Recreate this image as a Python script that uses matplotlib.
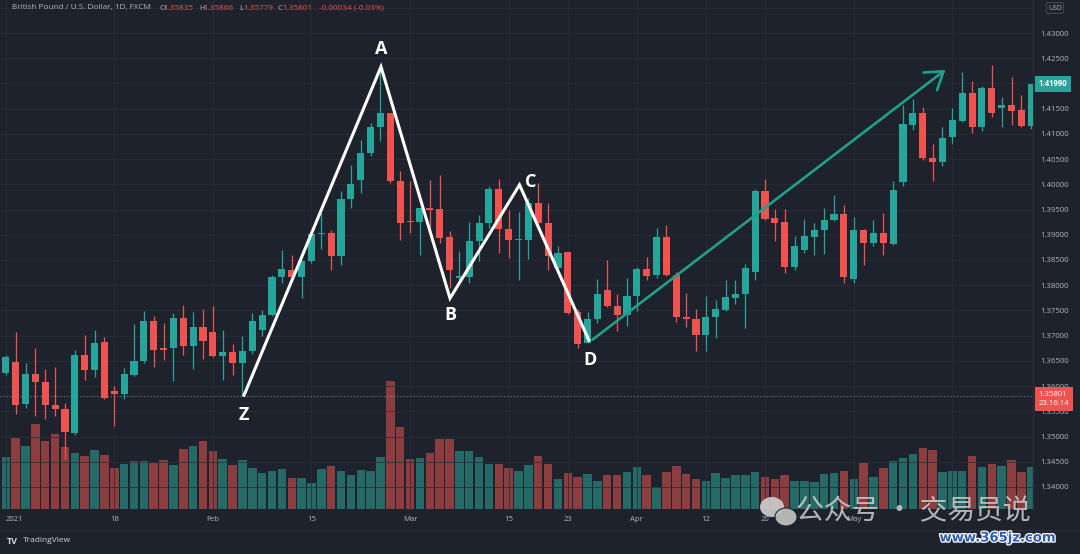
import matplotlib
matplotlib.use('Agg')
import matplotlib.pyplot as plt
import numpy as np
import matplotlib.patheffects as pe
from matplotlib.patches import Ellipse
from matplotlib.lines import Line2D
from matplotlib.transforms import blended_transform_factory

plt.rcParams['font.family'] = ['Open Sans', 'DejaVu Sans']

# ---------------- data ----------------
opens = [1.3625, 1.3647, 1.3565, 1.3624, 1.3608, 1.3563, 1.3555, 1.3507, 1.3662, 1.3631,
         1.3687, 1.3590, 1.3585, 1.3622, 1.3650, 1.3730, 1.3675, 1.3676, 1.3735, 1.3679,
         1.3717, 1.3707, 1.3660, 1.3668, 1.3645, 1.3669, 1.3712, 1.3740, 1.3817, 1.3831,
         1.3816, 1.3847, 1.3901, 1.3903, 1.3857, 1.3970, 1.4008, 1.4062, 1.4113, 1.4141,
         1.4006, 1.3928, 1.3925, 1.3953, 1.3951, 1.3895, 1.3815, 1.3817, 1.3887, 1.3923,
         1.3991, 1.3912, 1.3890, 1.3890, 1.3963, 1.3924, 1.3834, 1.3865, 1.3746, 1.3686,
         1.3732, 1.3791, 1.3759, 1.3740, 1.3778, 1.3832, 1.3821, 1.3895, 1.3821, 1.3737,
         1.3733, 1.3702, 1.3736, 1.3750, 1.3775, 1.3782, 1.3826, 1.3987, 1.3933, 1.3926,
         1.3836, 1.3869, 1.3896, 1.3909, 1.3929, 1.3942, 1.3812, 1.3910, 1.3884, 1.3903,
         1.3882, 1.4004, 1.4118, 1.4141, 1.4053, 1.4045, 1.4093, 1.4126, 1.4182, 1.4114,
         1.4190, 1.4151, 1.4157, 1.4147, 1.4116]
highs = [1.3662, 1.3707, 1.3645, 1.3676, 1.3634, 1.3638, 1.3567, 1.3672, 1.3702, 1.3712,
         1.3697, 1.3601, 1.3636, 1.3724, 1.3748, 1.3738, 1.3726, 1.3745, 1.3761, 1.3746,
         1.3753, 1.3759, 1.3712, 1.3684, 1.3700, 1.3745, 1.3751, 1.3821, 1.3869, 1.3860,
         1.3849, 1.3905, 1.3943, 1.3910, 1.3986, 1.4039, 1.4088, 1.4121, 1.4225, 1.4142,
         1.4027, 1.4006, 1.3954, 1.4009, 1.4019, 1.3907, 1.3867, 1.3926, 1.3940, 1.3996,
         1.4010, 1.3950, 1.3946, 1.3973, 1.4002, 1.3963, 1.3878, 1.3866, 1.3752, 1.3746,
         1.3812, 1.3849, 1.3783, 1.3814, 1.3837, 1.3856, 1.3913, 1.3920, 1.3827, 1.3785,
         1.3752, 1.3779, 1.3770, 1.3811, 1.3811, 1.3843, 1.3991, 1.4010, 1.3951, 1.3951,
         1.3898, 1.3931, 1.3924, 1.3953, 1.3979, 1.3959, 1.3935, 1.3912, 1.3930, 1.3943,
         1.4006, 1.4157, 1.4169, 1.4154, 1.4080, 1.4113, 1.4151, 1.4223, 1.4204, 1.4194,
         1.4237, 1.4174, 1.4213, 1.4177, 1.4199]
lows = [1.3621, 1.3544, 1.3557, 1.3540, 1.3534, 1.3540, 1.3455, 1.3504, 1.3613, 1.3618,
        1.3575, 1.3520, 1.3575, 1.3620, 1.3646, 1.3638, 1.3651, 1.3610, 1.3662, 1.3633,
        1.3654, 1.3658, 1.3613, 1.3621, 1.3580, 1.3664, 1.3699, 1.3738, 1.3804, 1.3808,
        1.3775, 1.3845, 1.3872, 1.3831, 1.3841, 1.3953, 1.3983, 1.4056, 1.4085, 1.4003,
        1.3890, 1.3903, 1.3860, 1.3913, 1.3884, 1.3795, 1.3811, 1.3804, 1.3847, 1.3913,
        1.3864, 1.3854, 1.3811, 1.3851, 1.3923, 1.3831, 1.3831, 1.3742, 1.3676, 1.3685,
        1.3725, 1.3757, 1.3709, 1.3720, 1.3748, 1.3810, 1.3814, 1.3818, 1.3728, 1.3718,
        1.3669, 1.3669, 1.3695, 1.3748, 1.3763, 1.3715, 1.3811, 1.3930, 1.3887, 1.3825,
        1.3831, 1.3864, 1.3860, 1.3862, 1.3927, 1.3804, 1.3804, 1.3841, 1.3877, 1.3860,
        1.3880, 1.3996, 1.4108, 1.4049, 1.4006, 1.4037, 1.4080, 1.4124, 1.4101, 1.4105,
        1.4134, 1.4114, 1.4118, 1.4114, 1.4110]
closes = [1.3658, 1.3563, 1.3624, 1.3608, 1.3563, 1.3555, 1.3509, 1.3662, 1.3631, 1.3686,
          1.3577, 1.3585, 1.3623, 1.3650, 1.3730, 1.3672, 1.3672, 1.3735, 1.3679, 1.3717,
          1.3689, 1.3659, 1.3668, 1.3645, 1.3670, 1.3730, 1.3740, 1.3817, 1.3832, 1.3816,
          1.3847, 1.3902, 1.3904, 1.3857, 1.3971, 1.4000, 1.4063, 1.4113, 1.4141, 1.4006,
          1.3924, 1.3925, 1.3953, 1.3950, 1.3893, 1.3831, 1.3818, 1.3887, 1.3923, 1.3991,
          1.3912, 1.3890, 1.3892, 1.3963, 1.3924, 1.3857, 1.3864, 1.3744, 1.3684, 1.3732,
          1.3783, 1.3758, 1.3740, 1.3779, 1.3832, 1.3819, 1.3895, 1.3821, 1.3736, 1.3733,
          1.3702, 1.3736, 1.3752, 1.3776, 1.3783, 1.3834, 1.3987, 1.3931, 1.3924, 1.3836,
          1.3878, 1.3898, 1.3910, 1.3930, 1.3942, 1.3816, 1.3910, 1.3884, 1.3903, 1.3884,
          1.3988, 1.4120, 1.4142, 1.4052, 1.4045, 1.4092, 1.4128, 1.4182, 1.4114, 1.4190,
          1.4141, 1.4157, 1.4146, 1.4116, 1.4199]
volumes = [52, 71, 63, 85, 68, 75, 62, 56, 53, 59, 54, 41, 45, 48, 48, 46, 49, 44, 60, 63,
           68, 58, 50, 44, 49, 41, 36, 38, 40, 31, 31, 26, 40, 43, 38, 34, 39, 38, 52, 128,
           82, 50, 51, 56, 70, 70, 58, 58, 52, 45, 45, 41, 38, 44, 53, 45, 30, 36, 32, 35,
           28, 34, 34, 37, 42, 34, 22, 37, 43, 35, 30, 28, 36, 31, 34, 34, 37, 32, 30, 34,
           28, 28, 27, 35, 36, 38, 30, 46, 32, 41, 48, 51, 55, 61, 59, 37, 38, 38, 53, 42,
           45, 43, 49, 37, 42]

date_tick_pos = [0, 11, 21, 31, 41, 51, 57, 64, 71, 77, 86, 96]
date_tick_labels = ['2021', '18', 'Feb', '15', 'Mar', '15', '23', 'Apr', '12', '20', 'May', '']
price_ticks = [1.340, 1.345, 1.350, 1.355, 1.360, 1.365, 1.370, 1.375, 1.380, 1.385,
               1.390, 1.395, 1.400, 1.405, 1.410, 1.415, 1.420, 1.425, 1.430, 1.435]

pattern_x = [24.1, 38.05, 45.05, 52.1, 59.2]
pattern_y = [1.3579, 1.4233, 1.3774, 1.3999, 1.3688]
pattern_labels = ['Z', 'A', 'B', 'C', 'D']
trend_start = (59.5, 1.3692)
trend_end = (95.3, 1.4227)

last_price = 1.41990
cursor_price = 1.35801

# ---------------- style ----------------
BG = '#1e222d'
GRID = '#2a2e39'
TEAL = '#26a69a'
RED = '#ef5350'
VTEAL = '#256a66'
VRED = '#8b3d40'
TXT = '#b2b5be'
GREEN = '#1fa08b'

W, H = 1080, 554
fig = plt.figure(figsize=(W / 100, H / 100), dpi=100, facecolor=BG)
rect = [0, 44 / H, 1033 / W, 510 / H]

n = len(opens)
idx = np.arange(n)
o = np.array(opens); c = np.array(closes)
hi = np.array(highs); lo = np.array(lows)
up = c >= o

# volume axes (behind)
axv = fig.add_axes(rect)
axv.set_facecolor(BG)
axv.bar(idx, volumes, width=0.86, color=np.where(up, VTEAL, VRED), linewidth=0)
axv.set_xlim(-0.59, 104.18)
axv.set_ylim(-1, 509)
axv.axis('off')

# price axes (front)
ax = fig.add_axes(rect)
ax.patch.set_visible(False)
ax.set_xlim(-0.59, 104.18)
ax.set_ylim(1.335432, 1.436543)

ax.set_yticks(price_ticks)
ax.set_yticklabels(['' if p > 1.4325 else f'{p:.5f}' for p in price_ticks])
ax.yaxis.tick_right()
ax.tick_params(axis='y', length=0, pad=5, labelsize=5.6, labelcolor=TXT)
ax.set_xticks(date_tick_pos)
ax.set_xticklabels(date_tick_labels)
ax.tick_params(axis='x', length=0, pad=4, labelsize=5.6, labelcolor=TXT)
ax.get_xticklabels()[0].set_ha('left')
ax.grid(True, color=GRID, lw=0.7, alpha=0.8, zorder=0)
for s in ['top', 'left', 'bottom']:
    ax.spines[s].set_visible(False)
ax.spines['right'].set_color(GRID)
ax.spines['right'].set_linewidth(1.0)

colors = np.where(up, TEAL, RED)
ax.vlines(idx, lo, hi, colors=colors, lw=0.9, zorder=3)
ax.bar(idx, np.maximum(np.abs(c - o), 0.00016), bottom=np.minimum(o, c), width=0.72,
       color=colors, linewidth=0, zorder=4)

# cursor price dotted line
ax.axhline(cursor_price, color='#9598a1', lw=0.8, ls=(0, (1, 2)), alpha=0.8, zorder=2)

# pattern lines
ax.plot(pattern_x, pattern_y, color='white', lw=2.2, zorder=6, solid_joinstyle='miter',
        solid_capstyle='butt')
label_offsets = [(0, -13), (0, 13), (0, -12), (8, 2), (0, -13)]
for x, y, t, off in zip(pattern_x, pattern_y, pattern_labels, label_offsets):
    ax.annotate(t, (x, y), xytext=off, textcoords='offset points', ha='center', va='center',
                fontsize=13, fontweight='bold', color='white', zorder=7)

ax.annotate('', xy=trend_end, xytext=trend_start,
            arrowprops=dict(arrowstyle='->,head_length=0.6,head_width=0.4', color=GREEN, lw=1.9,
                            mutation_scale=20, shrinkA=0, shrinkB=0), zorder=6)

# price badges
bt = blended_transform_factory(ax.transAxes, ax.transData)
ax.annotate(f'{last_price:.5f}', (1.0, last_price), xycoords=bt, xytext=(4, 0), textcoords='offset points',
            ha='left', va='center', fontsize=5.6, color='white', fontweight='bold',
            bbox=dict(boxstyle='square,pad=0.45', fc=TEAL, ec='none'), annotation_clip=False, zorder=10)
ax.annotate(f'{cursor_price:.5f}\n23:16:14', (1.0, cursor_price), xycoords=bt, xytext=(4, 3.5),
            textcoords='offset points', ha='left', va='top', fontsize=5.6, color='white', linespacing=1.3,
            bbox=dict(boxstyle='square,pad=0.5', fc=RED, ec='none'), annotation_clip=False, zorder=10)

# ---------------- figure texts ----------------
def fx(px):
    return px / W

def fy(py):
    return 1 - py / H

fig.text(fx(12.5), fy(8), 'British Pound / U.S. Dollar, 1D, FXCM', fontsize=5.9, color=TXT, va='center')
pieces = [('O', 159, TXT), ('1.35835', 163.5, RED), ('H', 199, TXT), ('1.35866', 203.5, RED),
          ('L', 239, TXT), ('1.35779', 243, RED), ('C', 278, TXT), ('1.35801', 282.5, RED),
          ('-0.00034 (-0.03%)', 319, RED)]
for t, px, col in pieces:
    fig.text(fx(px), fy(8), t, fontsize=5.9, color=col, va='center')

fig.text(fx(1055), fy(8), 'USD', fontsize=5.0, color=TXT, ha='center', va='center',
         bbox=dict(boxstyle='round,pad=0.25', fc=BG, ec='#50535e', lw=0.6))

fig.add_artist(Line2D([0, 1], [fy(529.5), fy(529.5)], transform=fig.transFigure, color=GRID, lw=1))
fig.text(fx(7), fy(541), 'TV', fontsize=6.5, fontweight='bold', color='#d1d4dc', va='center')
fig.text(fx(23), fy(541), 'TradingView', fontsize=6, color='#d1d4dc', va='center')

# watermark
fig.add_artist(Ellipse((fx(772), fy(507)), 24 / W, 20 / H, transform=fig.transFigure,
                       fc='#cfcfcf', ec='none', alpha=0.9))
fig.add_artist(Ellipse((fx(786), fy(517)), 22 / W, 18 / H, transform=fig.transFigure,
                       fc='#bdbdbd', ec=BG, lw=0.8, alpha=0.95))
fig.text(fx(913), fy(511), '公众号 · 交易员说', fontsize=20, color='#cfcfcf', alpha=0.85,
         ha='center', va='center', family=['Noto Sans CJK SC', 'DejaVu Sans'])
fig.text(fx(998), fy(538), 'www.365jz.com', fontsize=9.5, color='#2f5bb5', fontweight='bold',
         ha='center', va='center', family='DejaVu Sans',
         path_effects=[pe.withStroke(linewidth=1.8, foreground='white')])

fig.savefig('out.png', dpi=100, facecolor=BG)
